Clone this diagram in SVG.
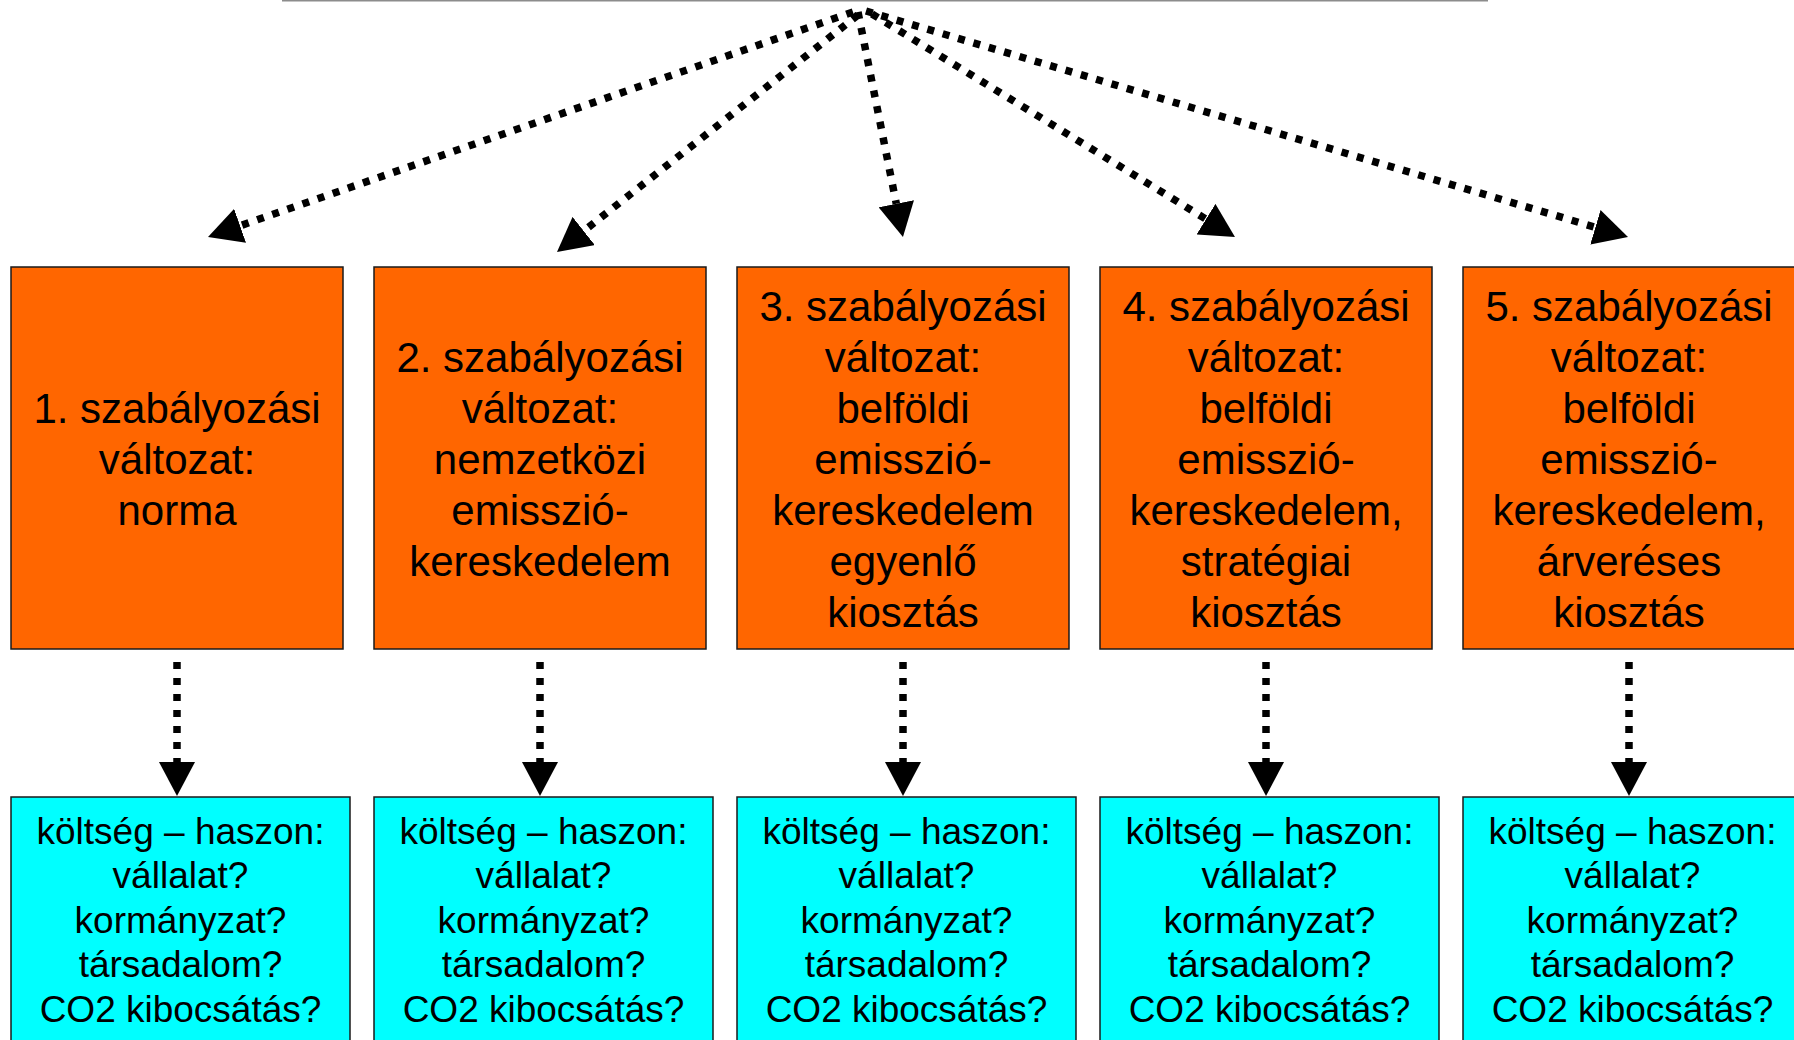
<svg xmlns="http://www.w3.org/2000/svg" width="1794" height="1040" viewBox="0 0 1794 1040">
<defs>
<marker id="ah" viewBox="0 -18 34 36" markerWidth="34" markerHeight="36" refX="0" refY="0" orient="auto" markerUnits="userSpaceOnUse">
<path d="M0,-18 L34,0 L0,18 Z" fill="#000"/>
</marker>
<style>
.top{fill:#FF6600;stroke:#1a1a1a;stroke-width:1.5}
.bot{fill:#00FFFF;stroke:#1a1a1a;stroke-width:1.5}
.t1{font-family:"Liberation Sans",Arial,sans-serif;font-size:42px;fill:#000;text-anchor:middle}
.t2{font-family:"Liberation Sans",Arial,sans-serif;font-size:37px;fill:#000;text-anchor:middle}
.c{fill:none;stroke:#000;stroke-width:7.5;stroke-dasharray:7 9;marker-end:url(#ah)}
</style>
</defs>
<rect width="1794" height="1040" fill="#fff"/>
<line x1="282" y1="0.75" x2="1488" y2="0.75" stroke="#8c8c8c" stroke-width="1.5"/>

<g id="connectors">
<line class="c" x1="853" y1="12" x2="240.1" y2="225.8"/>
<line class="c" x1="858" y1="15" x2="583.7" y2="231"/>
<line class="c" x1="858" y1="12" x2="896.3" y2="203.7"/>
<line class="c" x1="872" y1="14" x2="1206" y2="219.2"/>
<line class="c" x1="866" y1="11" x2="1595.4" y2="227.3"/>
<line class="c" x1="177" y1="662" x2="177" y2="762"/>
<line class="c" x1="540" y1="662" x2="540" y2="762"/>
<line class="c" x1="903" y1="662" x2="903" y2="762"/>
<line class="c" x1="1266" y1="662" x2="1266" y2="762"/>
<line class="c" x1="1629" y1="662" x2="1629" y2="762"/>
</g>

<g id="v1">
<rect class="top" x="11" y="267" width="332" height="382"/>
<text class="t1"><tspan x="177" y="422.5">1. szabályozási</tspan><tspan x="177" y="473.5">változat:</tspan><tspan x="177" y="524.5">norma</tspan></text>
</g>
<g id="v2">
<rect class="top" x="374" y="267" width="332" height="382"/>
<text class="t1"><tspan x="540" y="371.5">2. szabályozási</tspan><tspan x="540" y="422.5">változat:</tspan><tspan x="540" y="473.5">nemzetközi</tspan><tspan x="540" y="524.5">emisszió-</tspan><tspan x="540" y="575.5">kereskedelem</tspan></text>
</g>
<g id="v3">
<rect class="top" x="737" y="267" width="332" height="382"/>
<text class="t1"><tspan x="903" y="320.5">3. szabályozási</tspan><tspan x="903" y="371.5">változat:</tspan><tspan x="903" y="422.5">belföldi</tspan><tspan x="903" y="473.5">emisszió-</tspan><tspan x="903" y="524.5">kereskedelem</tspan><tspan x="903" y="575.5">egyenlő</tspan><tspan x="903" y="626.5">kiosztás</tspan></text>
</g>
<g id="v4">
<rect class="top" x="1100" y="267" width="332" height="382"/>
<text class="t1"><tspan x="1266" y="320.5">4. szabályozási</tspan><tspan x="1266" y="371.5">változat:</tspan><tspan x="1266" y="422.5">belföldi</tspan><tspan x="1266" y="473.5">emisszió-</tspan><tspan x="1266" y="524.5">kereskedelem,</tspan><tspan x="1266" y="575.5">stratégiai</tspan><tspan x="1266" y="626.5">kiosztás</tspan></text>
</g>
<g id="v5">
<rect class="top" x="1463" y="267" width="332" height="382"/>
<text class="t1"><tspan x="1629" y="320.5">5. szabályozási</tspan><tspan x="1629" y="371.5">változat:</tspan><tspan x="1629" y="422.5">belföldi</tspan><tspan x="1629" y="473.5">emisszió-</tspan><tspan x="1629" y="524.5">kereskedelem,</tspan><tspan x="1629" y="575.5">árveréses</tspan><tspan x="1629" y="626.5">kiosztás</tspan></text>
</g>

<g id="r1">
<rect class="bot" x="11" y="797" width="339" height="260"/>
<text class="t2"><tspan x="180.5" y="843.5">költség – haszon:</tspan><tspan x="180.5" y="888">vállalat?</tspan><tspan x="180.5" y="932.5">kormányzat?</tspan><tspan x="180.5" y="977">társadalom?</tspan><tspan x="180.5" y="1021.5">CO2 kibocsátás?</tspan></text>
</g>
<g id="r2">
<rect class="bot" x="374" y="797" width="339" height="260"/>
<text class="t2"><tspan x="543.5" y="843.5">költség – haszon:</tspan><tspan x="543.5" y="888">vállalat?</tspan><tspan x="543.5" y="932.5">kormányzat?</tspan><tspan x="543.5" y="977">társadalom?</tspan><tspan x="543.5" y="1021.5">CO2 kibocsátás?</tspan></text>
</g>
<g id="r3">
<rect class="bot" x="737" y="797" width="339" height="260"/>
<text class="t2"><tspan x="906.5" y="843.5">költség – haszon:</tspan><tspan x="906.5" y="888">vállalat?</tspan><tspan x="906.5" y="932.5">kormányzat?</tspan><tspan x="906.5" y="977">társadalom?</tspan><tspan x="906.5" y="1021.5">CO2 kibocsátás?</tspan></text>
</g>
<g id="r4">
<rect class="bot" x="1100" y="797" width="339" height="260"/>
<text class="t2"><tspan x="1269.5" y="843.5">költség – haszon:</tspan><tspan x="1269.5" y="888">vállalat?</tspan><tspan x="1269.5" y="932.5">kormányzat?</tspan><tspan x="1269.5" y="977">társadalom?</tspan><tspan x="1269.5" y="1021.5">CO2 kibocsátás?</tspan></text>
</g>
<g id="r5">
<rect class="bot" x="1463" y="797" width="339" height="260"/>
<text class="t2"><tspan x="1632.5" y="843.5">költség – haszon:</tspan><tspan x="1632.5" y="888">vállalat?</tspan><tspan x="1632.5" y="932.5">kormányzat?</tspan><tspan x="1632.5" y="977">társadalom?</tspan><tspan x="1632.5" y="1021.5">CO2 kibocsátás?</tspan></text>
</g>
</svg>
